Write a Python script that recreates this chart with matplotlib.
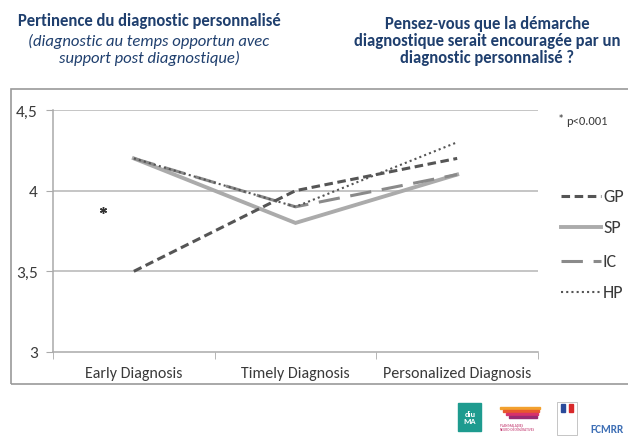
import matplotlib
matplotlib.use("Agg")
import matplotlib.pyplot as plt
from matplotlib.lines import Line2D
from matplotlib.patches import Rectangle

plt.rcParams['font.family'] = ['Carlito', 'DejaVu Sans']

categories = ["Early Diagnosis", "Timely Diagnosis", "Personalized Diagnosis"]
gp = [3.5, 4.0, 4.2]
sp = [4.2, 3.8, 4.1]
ic = [4.2, 3.9, 4.1]
hp = [4.2, 3.9, 4.3]
yticks = [3, 3.5, 4, 4.5]
ytick_labels = ["3", "3,5", "4", "4,5"]
star_value = 3.88
series_names = ['GP', 'SP', 'IC', 'HP']

W, H = 628, 439
fig = plt.figure(figsize=(W/100, H/100), dpi=100)
fig.patch.set_facecolor('white')

def fx(x): return x / W
def fy(y): return 1 - y / H

txt_color = '#3a3a3a'

# chart frame
fig.patches.append(Rectangle((fx(11), fy(385)), fx(640) - fx(11), fy(90) - fy(385),
                             transform=fig.transFigure, fill=False, edgecolor='#9a9a9a', lw=1.2))

ax = fig.add_axes([fx(53), fy(353), fx(538) - fx(53), fy(111) - fy(353)])
x = [0, 1, 2]
gp_style = dict(color='#555555', lw=2.2, ls=(0, (2.8, 1.5)))
sp_style = dict(color='#ababab', lw=2.8, ls='-')
ic_style = dict(color='#8a8a8a', lw=2.2, ls=(0, (7, 3.5)))
hp_style = dict(color='#555555', lw=1.5, ls=(0, (1, 1.5)))
styles = [gp_style, sp_style, ic_style, hp_style]
ax.plot(x, sp, label='SP', solid_joinstyle='miter', **sp_style)
ax.plot(x, ic, label='IC', **ic_style)
ax.plot(x, hp, label='HP', **hp_style)
ax.plot(x, gp, label='GP', **gp_style)
ax.plot([-0.19], [star_value], marker=(6, 2, 0), color='#333333', ms=5, mew=1, ls='none')

ax.set_xlim(-0.5, 2.5)
ax.set_ylim(3, 4.5)
ax.set_yticks(yticks)
ax.set_yticklabels(ytick_labels, fontsize=12.5, color=txt_color)
for v in yticks[1:]:
    ax.axhline(v, color='#b5b5b5', lw=1.1, zorder=0)
ax.set_xticks(x)
ax.set_xticklabels(categories, fontsize=11.5, color=txt_color)
ax.set_xticks([-0.5, 0.5, 1.5, 2.5], minor=True)
ax.tick_params(axis='x', which='major', length=0, pad=10)
ax.tick_params(axis='x', which='minor', length=5, color='#aaaaaa')
ax.tick_params(axis='y', length=5, color='#aaaaaa', pad=6)
for s in ['top', 'right']:
    ax.spines[s].set_visible(False)
for s in ['left', 'bottom']:
    ax.spines[s].set_color('#aaaaaa')
    ax.spines[s].set_linewidth(1.1)

# legend drawn manually at the right of the chart
leg_y = [197, 228, 262, 293]
for name, st, yy in zip(series_names, styles, leg_y):
    fig.add_artist(Line2D([fx(561), fx(601)], [fy(yy), fy(yy)], transform=fig.transFigure, **st))
    fig.text(fx(603), fy(yy), name, fontsize=13, color=txt_color, va='center', ha='left')

fig.text(fx(558), fy(119), '*', fontsize=9, color='#333333', va='center', ha='left')
fig.text(fx(566), fy(122), 'p<0.001', fontsize=9, color=txt_color, va='center', ha='left')

# titles
navy = '#1f3f6e'
fig.text(fx(149), fy(21), 'Pertinence du diagnostic personnalisé', ha='center', va='center',
         fontsize=12, fontweight='bold', color=navy)
fig.text(fx(149), fy(50), '(diagnostic au temps opportun avec\nsupport post diagnostique)',
         ha='center', va='center', fontsize=12, fontstyle='italic', color=navy, linespacing=1.1)
fig.text(fx(487), fy(41), 'Pensez-vous que la démarche\ndiagnostique serait encouragée par un\ndiagnostic personnalisé ?',
         ha='center', va='center', fontsize=12, fontweight='bold', color=navy, linespacing=1.1)

# logos (simple approximations)
fig.patches.append(Rectangle((fx(458), fy(432)), fx(23), fy(404) - fy(432),
                             transform=fig.transFigure, color='#1e9b8f'))
fig.text(fx(470), fy(418), 'diu\nMA', ha='center', va='center', fontsize=6, color='white',
         fontweight='bold', linespacing=0.9)
for i, c in enumerate(['#f2a12e', '#e8582e', '#d8326b', '#9a2a72']):
    fig.patches.append(Rectangle((fx(500 + i * 3), fy(410 + i * 3)), fx(40 - i * 4), fy(0) - fy(2),
                                 transform=fig.transFigure, color=c))
fig.text(fx(500), fy(428), 'PLAN MALADIES\nNEURO-DÉGÉNÉRATIVES', fontsize=2.5, color='#c0306a',
         va='center', ha='left')
fig.patches.append(Rectangle((fx(557), fy(436)), fx(20), fy(403) - fy(436),
                             transform=fig.transFigure, fill=False, edgecolor='#bbbbbb', lw=0.6))
fig.patches.append(Rectangle((fx(561), fy(413)), fx(4), fy(405) - fy(413), transform=fig.transFigure, color='#2a4a9a'))
fig.patches.append(Rectangle((fx(569), fy(413)), fx(4), fy(405) - fy(413), transform=fig.transFigure, color='#d8282a'))
fig.text(fx(607), fy(430), 'FCMRR', ha='center', va='center', fontsize=8, fontweight='bold', color='#3e6fb5')

fig.savefig('out.png', dpi=100, facecolor='white')
